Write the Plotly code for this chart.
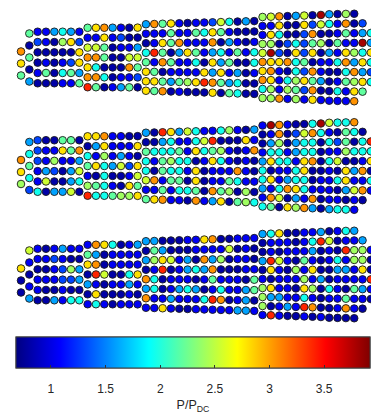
import plotly.graph_objects as go

# Colour-class codes used in the tables below, as P/P_DC values
LEVELS = {"D": 0.80, "B": 1.05, "b": 1.30, "c": 1.60, "C": 1.95, "m": 2.20,
          "g": 2.40, "y": 2.55, "Y": 2.80, "o": 3.05, "r": 3.40, "R": 3.80}

# ---- panel 1 (top) ----
P1_CAP = ["oYm", "mDmDc"]
P1_SEG1 = ["BBcCcB", "bBDgYb", "DDDDDY", "DBDBbY", "BmDCmc", "DDDBBm"]
P1_SEG2 = ["mYocBDY", "BBYBbDD", "yymDBBc", "oomDDyy", "YCDDDom", "ooCDBBb", "rmDBcmD"]
P1_SEG3 = ["comYBDBBbyCDcD", "BBBmBBmCYmBDDD", "DBYmoBBBoDcBDB", "CrmDcYmBcCBmBC",
           "mBomBBCDYcmDDC", "YmDBBBBYcYBcDB", "YYmcmgYromcCDD", "YmoDBDDDYDmCDD"]
P1_SEG4 = ["gyoDcyDR", "BBYDDYby", "BYCDDboD", "ggDbCbmg", "yRbDYbYD",
           "oYYoCmDB", "YoBDCboB", "oYBCgYmc", "CgBgmboD", "ggoBgBYB"]
P1_SEG5 = ["cDgD", "CBoDb", "DBmBcC", "DmBBRc", "cBYgCY",
           "BCocYC", "DDCocb", "DBmgYC", "DCBYm", "BBBo"]

# ---- panel 2 (middle) ----
P2_CAP = ["oYg", "cCmCb"]
P2_SEG1 = ["bDDmmD", "bBBYmo", "bBgBBc", "BcbDcy", "ByDDcC", "CDccyD"]
P2_SEG2 = ["YYoBBDD", "DcYBBBY", "CBgBcBD", "mYCcybY", "BDCDDBy", "gmCBDYm", "rCCmggY"]
P2_SEG3 = ["cDrYcyCBBCgBDc", "DDcCBBCyrDDDYB", "mCCCmBYCmgBDBo", "CBmgCCDBYCBDBD",
           "CDmCCBYDBBBoBD", "yoBmmDYDBBmCBB", "BBmBCCmDomgDgD", "mYoBBDoBcYDmgC"]
P2_SEG4 = ["BRoBDDCR", "DBoDbyoC", "DcgDcCCD", "BCCBcCCD", "cYCCBYoD",
           "CDBBCYDD", "CYBcCCDB", "cBCoYCBB", "BoyDcBoD", "CmDYgocD"]
P2_SEG5 = ["yCCo", "BDmCD", "CbmDCr", "BBgCCC", "CyDDBY",
           "BDYcoD", "BCYBBC", "BDcyoB", "BBDBD", "cCCB"]

# ---- panel 3 (bottom) ----
P3_CAP = ["YDD", "yBDBc"]
P3_SEG1 = ["BDBcBB", "BBbBDD", "DDBbgc", "BBBbbc", "BDDBDD", "DDcBCC"]
P3_SEG2 = ["BoYCDBc", "mcDBBBB", "YoDBBBB", "DryDDCY", "cBDBBcB", "DYDDDBD", "BCBDBBB"]
P3_SEG3 = ["ccDDDBBYoDDBBB", "DmcDDDBBBByDBD", "cgYyBcDocgDBBD", "DBrDBcCcoDDDBB",
           "oCDBBBDBmBBBDm", "cCDBcCcDBCBBcm", "oBBcBBBCroDBcD", "BBYBDDBBBBBccB"]
P3_SEG4 = ["cCYDDBBc", "DBBBDBCr", "DBDBBBcD", "cryBDmBD", "DYBDgBYD",
           "BDBBBgBc", "gYBBDYgD", "gccBBCBD", "gDBcBroD", "BrBDDBDB"]
P3_SEG5 = ["DBCc", "yDBBc", "BDrggB", "BCBggD", "DccBYD",
           "DBBBBr", "CBDmcB", "BBmBBD", "DBoBD", "DDDD"]

PANELS = [
    (P1_CAP, [P1_SEG1, P1_SEG2, P1_SEG3, P1_SEG4, P1_SEG5]),
    (P2_CAP, [P2_SEG1, P2_SEG2, P2_SEG3, P2_SEG4, P2_SEG5]),
    (P3_CAP, [P3_SEG1, P3_SEG2, P3_SEG3, P3_SEG4, P3_SEG5]),
]

CB_TICKS = [1, 1.5, 2, 2.5, 3, 3.5]
CMIN, CMAX = 0.68, 3.92

# ---- layout geometry (pixel units, y downwards) ----
W, H = 371, 417
X0, PITCH = 21.0, 8.33
PANEL_CENTERS = [57.5, 166.0, 274.5]
CAP_OFFSETS = [[-6, 6, 18], [-24, -12, 0, 12, 24]]
# first column index, row spacing at first column, row spacing at last column
SEG_GEOM = [(2, 10.3, 10.3), (8, 9.9, 9.95), (15, 9.5, 10.4), (29, 9.0, 9.45), (37, 9.6, 9.8)]

JET = [[0.0, "rgb(0,0,128)"], [0.125, "rgb(0,0,255)"], [0.375, "rgb(0,255,255)"],
       [0.625, "rgb(255,255,0)"], [0.875, "rgb(255,0,0)"], [1.0, "rgb(128,0,0)"]]


def panel_points(cap, segs, yc):
    xs, ys, vs = [], [], []
    for j, (codes, offs) in enumerate(zip(cap, CAP_OFFSETS)):
        for code, off in zip(codes, offs):
            xs.append(X0 + PITCH * j)
            ys.append(yc + off)
            vs.append(LEVELS[code])
    for rows, (j0, s0, s1) in zip(segs, SEG_GEOM):
        nrow = len(rows)
        ncol = max(len(r) for r in rows)
        for i, row in enumerate(rows):
            for k, code in enumerate(row):
                sp = s0 + (s1 - s0) * k / max(ncol - 1, 1)
                xs.append(X0 + PITCH * (j0 + k))
                ys.append(yc + (i - (nrow - 1) / 2) * sp)
                vs.append(LEVELS[code])
    return xs, ys, vs


fig = go.Figure()
for p, ((cap, segs), yc) in enumerate(zip(PANELS, PANEL_CENTERS)):
    xs, ys, vs = panel_points(cap, segs, yc)
    fig.add_trace(go.Scatter(
        x=xs, y=ys, mode="markers", hoverinfo="skip", showlegend=False,
        marker=dict(size=7.6, color=vs, coloraxis="coloraxis2" if p == 1 else "coloraxis",
                    line=dict(width=0.9, color="#1a1a1a")),
    ))

FONT = "Liberation Sans, Arial, Helvetica, sans-serif"
cb_common = dict(orientation="h", x=16 / W, xanchor="left", y=1 - 337 / H, yanchor="top",
                 len=354, lenmode="pixels", thickness=31, thicknessmode="pixels",
                 xpad=0, ypad=0, outlinewidth=1, outlinecolor="#3c3c3c",
                 tickmode="array", tickvals=CB_TICKS)

fig.update_layout(
    width=W, height=H, margin=dict(l=0, r=0, t=0, b=0),
    paper_bgcolor="white", plot_bgcolor="white",
    font=dict(family=FONT, color="#262626"),
    xaxis=dict(range=[0, W], visible=False, fixedrange=True),
    yaxis=dict(range=[H, 0], visible=False, fixedrange=True),
    coloraxis=dict(colorscale=JET, cmin=CMIN, cmax=CMAX, colorbar=dict(
        **cb_common, ticktext=[f"{t:g}" for t in CB_TICKS],
        ticks="outside", ticklen=11, tickcolor="rgba(0,0,0,0)",
        tickfont=dict(size=12, color="#262626"),
        title=dict(text="P/P<sub>DC</sub>", side="bottom", font=dict(size=12.5, color="#262626")),
    )),
    coloraxis2=dict(colorscale=JET, cmin=CMIN, cmax=CMAX, colorbar=dict(
        **cb_common, ticks="inside", ticklen=3, tickcolor="#333333", showticklabels=False,
    )),
)

fig.write_html("out.html")
